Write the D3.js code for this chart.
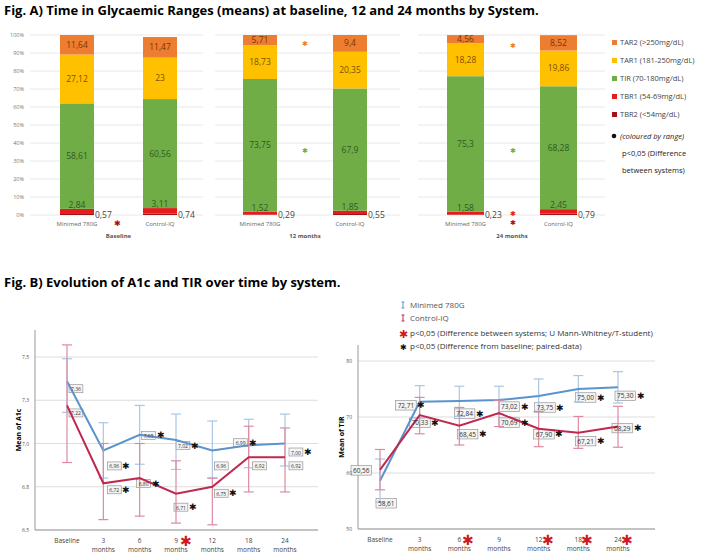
<!DOCTYPE html><html><head><meta charset="utf-8"><script src="https://cdn.jsdelivr.net/npm/d3@7"></script>
<style>body{margin:0;background:#fff;font-family:"Open Sans",sans-serif}</style></head><body><svg id="c" width="720" height="560"></svg>
<script>
const ranges=["TBR2","TBR1","TIR","TAR1","TAR2"];
const rangeLabels=["TAR2 (>250mg/dL)","TAR1 (181-250mg/dL)","TIR (70-180mg/dL)","TBR1 (54-69mg/dL)","TBR2 (<54mg/dL)"];
const periods=["Baseline","12 months","24 months"];
const systems=["Minimed 780G","Control-IQ"];
// [TBR2,TBR1,TIR,TAR1,TAR2]
const stackVals=[
 [[0.57,2.84,58.61,27.12,11.64],[0.74,3.11,60.56,23,11.47]],
 [[0.29,1.52,73.75,18.73,5.71],[0.55,1.85,67.9,20.35,9.4]],
 [[0.23,1.58,75.3,18.28,4.56],[0.79,2.45,68.28,19.86,8.52]]];
const pctTicks=[0,10,20,30,40,50,60,70,80,90,100];
const months=["Baseline","3","6","9","12","18","24"];
const a1cMin=[7.36,6.96,7.05,7.02,6.96,6.99,7.00];
const a1cMinLo=[7.18,6.80,6.88,6.85,6.80,6.86,6.87];
const a1cMinHi=[7.49,7.12,7.22,7.17,7.13,7.14,7.17];
const a1cCtl=[7.22,6.77,6.80,6.71,6.75,6.92,6.92];
const a1cCtlLo=[6.89,6.56,6.58,6.54,6.53,6.72,6.72];
const a1cCtlHi=[7.57,7.00,7.00,6.90,6.80,7.10,7.09];
const a1cLabMin=["7,36","6,96","7,05","7,02","6,96","6,99","7,00"];
const a1cLabCtl=["7,22","6,72","6,80","6,71","6,75","6,92","6,92"];
const a1cTicks=[6.5,6.75,7.0,7.25,7.5];
const tirMin=[58.61,72.71,72.84,73.02,73.75,75.00,75.30];
const tirMinLo=[54.8,69.8,70.1,70.5,71.0,72.7,72.5];
const tirMinHi=[62.5,75.6,75.5,75.5,76.8,77.4,78.1];
const tirCtl=[60.56,70.33,68.45,70.69,67.90,67.21,68.29];
const tirCtlLo=[57.0,67.0,65.0,68.3,64.7,64.4,64.6];
const tirCtlHi=[64.2,73.5,71.7,73.0,71.0,70.1,71.9];
const tirTicks=[50,60,70,80];
const fmt=v=>String(v).replace(".",",");

const svg=d3.select("#c");
const col={TAR2:"#ed7d31",TAR1:"#ffc000",TIR:"#70ad47",TBR1:"#e41c1c",TBR2:"#a50f15"};
const tcol={TAR2:"#7a3500",TAR1:"#7a5200",TIR:"#2f5a1c",TBR1:"#333",TBR2:"#333"};
svg.append("text").attr("x",4).attr("y",15).attr("font-size",13).attr("font-weight","bold").text("Fig. A) Time in Glycaemic Ranges (means) at baseline, 12 and 24 months by System.");
const y=d3.scaleLinear().domain([0,100]).range([215,35]);
svg.selectAll(".yt").data(pctTicks).join("text").attr("x",24).attr("y",d=>y(d)+2).attr("text-anchor","end").attr("font-size",5.5).attr("fill","#777").text(d=>d+"%");
const panels=[[30,203],[215,400],[418,605]];
const bandX=[[60,143],[243,333],[447,540]];
panels.forEach((p,i)=>{
 const g=svg.append("g");
 g.selectAll("line").data(pctTicks).join("line").attr("x1",p[0]).attr("x2",p[1]).attr("y1",d=>y(d)).attr("y2",d=>y(d)).attr("stroke","#e2e2e2").attr("stroke-width",0.8);
 const x=d3.scaleOrdinal().domain(systems).range(bandX[i]);
 const bw=i==2?37:34;
 stackVals[i].forEach((vals,j)=>{
  const st=d3.stack().keys(ranges)([Object.fromEntries(ranges.map((r,k)=>[r,vals[k]]))]);
  const x0=x(systems[j]);
  st.forEach(s=>{
   const d=s[0];const top=Math.max(y(Math.min(d[1],100)),35);
   g.append("rect").attr("x",x0).attr("width",bw).attr("y",top).attr("height",y(d[0])-top).attr("fill",col[s.key]);
  });
  const lab=(t,yy,c,xx,anc)=>g.append("text").attr("x",xx).attr("y",yy).attr("text-anchor",anc||"middle").attr("font-size",8.5).attr("fill",c).text(t);
  const c=st.map(s=>s[0]);
  lab(fmt(vals[4]),y((c[4][0]+Math.min(c[4][1],100))/2)+3,tcol.TAR2,x0+bw/2);
  lab(fmt(vals[3]),y((c[3][0]+c[3][1])/2)+3,tcol.TAR1,x0+bw/2);
  lab(fmt(vals[2]),y((c[2][0]+c[2][1])/2)+3,tcol.TIR,x0+bw/2);
  lab(fmt(vals[1]),y(c[1][1])-1,tcol.TIR,x0+bw/2);
  lab(fmt(vals[0]),y(0)+3,"#444",x0+bw+1,"start");
  g.append("text").attr("x",x0+bw/2).attr("y",226).attr("text-anchor","middle").attr("font-size",6).attr("fill","#666").text(systems[j]);
 });
 g.append("text").attr("x",(bandX[i][0]+bandX[i][1]+bw)/2).attr("y",238).attr("text-anchor","middle").attr("font-size",6).attr("font-weight","bold").attr("fill","#555").text(periods[i]);
});
const star=(x,yy,c,s)=>svg.append("text").attr("x",x).attr("y",yy).attr("text-anchor","middle").attr("dominant-baseline","central").attr("font-size",s||10).attr("fill",c).text("✱");
star(117,222,"#a50f15",8);star(305,43,col.TAR2,7);star(305,150,col.TIR,7);
star(513,45,col.TAR2,7);star(513,150,col.TIR,7);star(513,213,col.TBR1,7);star(513,222,col.TBR2,7);
const lg=svg.append("g");
rangeLabels.forEach((t,i)=>{const k=["TAR2","TAR1","TIR","TBR1","TBR2"][i];
 lg.append("rect").attr("x",612).attr("y",43+i*18-3).attr("width",5).attr("height",5).attr("fill",col[k]);
 lg.append("text").attr("x",620).attr("y",43+i*18+2).attr("font-size",7.5).attr("fill","#444").text(t);});
lg.append("circle").attr("cx",614).attr("cy",136).attr("r",2.3).attr("fill","#111");
lg.append("text").attr("x",620).attr("y",139).attr("font-size",7.5).attr("font-style","italic").attr("fill","#222").text("(coloured by range)");
lg.append("text").attr("x",622).attr("y",156).attr("font-size",7.5).attr("fill","#222").text("p<0,05 (Difference");
lg.append("text").attr("x",622).attr("y",173).attr("font-size",7.5).attr("fill","#222").text("between systems)");

svg.append("text").attr("x",4).attr("y",287).attr("font-size",13).attr("font-weight","bold").text("Fig. B) Evolution of A1c and TIR over time by system.");
const blue="#5b93cc",red="#c0284f",lblue="#a9c6e6",lred="#dd8aa0";
function line(cfg){
 const g=svg.append("g");
 const x=d3.scalePoint().domain(months).range(cfg.xr);
 const yy=d3.scaleLinear().domain(cfg.dom).range(cfg.yr);
 g.selectAll(".gl").data(cfg.ticks).join("line").attr("x1",cfg.ax).attr("x2",cfg.axEnd).attr("y1",d=>yy(d)).attr("y2",d=>yy(d)).attr("stroke","#ddd");
 g.append("line").attr("x1",cfg.ax).attr("x2",cfg.ax).attr("y1",cfg.top).attr("y2",cfg.yr[0]).attr("stroke","#999");
 g.append("line").attr("x1",cfg.ax).attr("x2",cfg.axEnd).attr("y1",cfg.yr[0]).attr("y2",cfg.yr[0]).attr("stroke","#999");
 g.selectAll(".tl").data(cfg.ticks).join("text").attr("x",cfg.ax-6).attr("y",d=>yy(d)+2).attr("text-anchor","end").attr("font-size",5).attr("fill","#555").text(cfg.tf);
 g.append("text").attr("transform",`translate(${cfg.ax-14},${(cfg.top+cfg.yr[0])/2}) rotate(-90)`).attr("text-anchor","middle").attr("font-size",7).attr("font-weight","bold").text(cfg.yl);
 months.forEach((m,i)=>{
  g.append("text").attr("x",x(m)).attr("y",cfg.yr[0]+13).attr("text-anchor","middle").attr("font-size",6.5).attr("fill","#444").text(m);
  if(i>0)g.append("text").attr("x",x(m)).attr("y",cfg.yr[0]+22).attr("text-anchor","middle").attr("font-size",6.5).attr("fill","#444").text("months");
 });
 cfg.series.forEach(s=>{
  s.lo.forEach((l,i)=>{const xx=x(months[i])+s.off;
   g.append("line").attr("x1",xx).attr("x2",xx).attr("y1",yy(l)).attr("y2",yy(s.hi[i])).attr("stroke",s.lc).attr("stroke-width",1.2);
   [l,s.hi[i]].forEach(v=>g.append("line").attr("x1",xx-5).attr("x2",xx+5).attr("y1",yy(v)).attr("y2",yy(v)).attr("stroke",s.lc).attr("stroke-width",1.2));});
  g.append("path").attr("d",d3.line().x((d,i)=>x(months[i])).y(d=>yy(d))(s.v)).attr("fill","none").attr("stroke",s.c).attr("stroke-width",2);
 });
 cfg.series.forEach(s=>s.v.forEach((v,i)=>{
  const xx=x(months[i])+s.dx[i],yv=yy(v)+s.dy[i];
  const t=g.append("text").attr("x",xx+2).attr("y",yv+3).attr("font-size",cfg.fs).attr("fill","#333").text(s.lab[i]);
  const w=t.node().getComputedTextLength();
  g.insert("rect","text").attr("x",xx).attr("y",yv-cfg.fs/2-1).attr("width",w+4).attr("height",cfg.fs+3).attr("fill","#f4f4f4").attr("stroke","#888").attr("stroke-width",0.6);
  g.node().appendChild(t.node());
  if(s.star[i])g.append("text").attr("x",xx+w+9).attr("y",yv).attr("text-anchor","middle").attr("dominant-baseline","central").attr("font-size",9).attr("fill","#111").text("✱");
 }));
 cfg.red.forEach(m=>g.append("text").attr("x",x(m)+cfg.redDx).attr("y",cfg.yr[0]+10).attr("text-anchor","middle").attr("dominant-baseline","central").attr("font-size",14).attr("fill","#d0191e").text("✱"));
 return g;
}
line({xr:[67,285],dom:[6.5,7.5],yr:[530,357],top:330,ax:35,axEnd:318,ticks:a1cTicks,tf:d=>d.toFixed(1).replace(".",","),yl:"Mean of A1c",fs:5,redDx:10,red:["9"],
 series:[{v:a1cMin,lo:a1cMinLo,hi:a1cMinHi,c:blue,lc:lblue,off:0,lab:a1cLabMin,dx:[2,4,2,0,2,-15,4],dy:[7,15,0,5,15,-3,8],star:[0,1,1,1,0,1,1]},
  {v:a1cCtl,lo:a1cCtlLo,hi:a1cCtlHi,c:red,lc:lred,off:0,lab:a1cLabCtl,dx:[2,4,-3,-2,2,4,4],dy:[7,6,5,13,6,8,8],star:[0,1,1,1,1,0,0]}]});
line({xr:[380,618],dom:[50,80],yr:[529,361],top:345,ax:358,axEnd:655,ticks:tirTicks,tf:d=>d,yl:"Mean of TIR",fs:6.5,redDx:9,red:["6","12","18","24"],
 series:[{v:tirMin,lo:tirMinLo,hi:tirMinHi,c:blue,lc:lblue,off:0,lab:["58,61","72,71","72,84","73,02","73,75","75,00","75,30"],dx:[-4,-24,-5,0,-4,-3,-3],dy:[22,3,12,6,11,8,8],star:[0,1,1,1,1,1,1]},
  {v:tirCtl,lo:tirCtlLo,hi:tirCtlHi,c:red,lc:lred,off:0,lab:["60,56","70,33","68,45","70,69","67,90","67,21","68,29"],dx:[-29,-10,-2,0,-5,-3,-6],dy:[0,7,8,9,5,8,1],star:[0,1,1,1,1,1,1]}]});
const l2=svg.append("g");
const ib=(x,yy,c)=>{l2.append("line").attr("x1",x).attr("x2",x).attr("y1",yy-3).attr("y2",yy+3).attr("stroke",c);[yy-3,yy+3].forEach(v=>l2.append("line").attr("x1",x-1.5).attr("x2",x+1.5).attr("y1",v).attr("y2",v).attr("stroke",c));};
ib(403,305,blue);ib(403,318,red);
l2.append("text").attr("x",410).attr("y",308).attr("font-size",8).attr("fill","#555").text("Minimed 780G");
l2.append("text").attr("x",410).attr("y",321).attr("font-size",8).attr("fill","#555").text("Control-IQ");
l2.append("text").attr("x",403).attr("y",333).attr("text-anchor","middle").attr("dominant-baseline","central").attr("font-size",11).attr("fill","#d0191e").text("✱");
l2.append("text").attr("x",410).attr("y",336).attr("font-size",8).attr("fill","#333").text("p<0,05 (Difference between systems; U Mann-Whitney/T-student)");
l2.append("text").attr("x",403).attr("y",346).attr("text-anchor","middle").attr("dominant-baseline","central").attr("font-size",8).attr("fill","#111").text("✱");
l2.append("text").attr("x",410).attr("y",349).attr("font-size",8).attr("fill","#333").text("p<0,05 (Difference from baseline; paired-data)");
</script></body></html>
